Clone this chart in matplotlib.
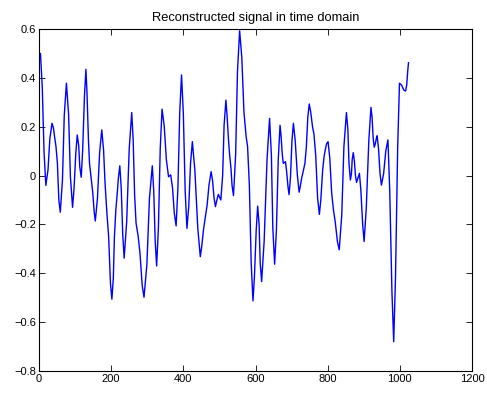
import matplotlib
matplotlib.use("Agg")
import matplotlib.pyplot as plt

# Sample index / value pairs
t = [1, 4, 9, 14, 19, 25, 30, 36, 40, 44, 47, 51, 55, 59, 65, 70, 76, 82, 87, 93,
     97, 102, 106, 110, 113, 117, 121, 126, 130, 133, 137, 140, 146, 149, 153, 156,
     162, 168, 174, 179, 183, 188, 193, 198, 202, 206, 209, 213, 217, 220, 224, 228,
     232, 236, 243, 250, 257, 261, 265, 269, 275, 280, 286, 291, 299, 306, 314, 318,
     322, 326, 331, 336, 341, 347, 353, 359, 365, 370, 375, 380, 385, 390, 395, 400,
     405, 410, 415, 420, 425, 432, 440, 447, 451, 456, 460, 466, 471, 477, 481, 485,
     489, 493, 497, 504, 509, 513, 518, 521, 525, 528, 532, 535, 539, 545, 550, 556,
     562, 568, 574, 578, 583, 588, 593, 597, 602, 606, 610, 613, 617, 624, 632, 639,
     644, 648, 653, 658, 663, 668, 671, 674, 677, 683, 686, 690, 693, 697, 701, 705,
     710, 716, 721, 724, 728, 731, 737, 741, 745, 749, 753, 758, 762, 767, 772, 777,
     781, 786, 790, 794, 797, 801, 806, 811, 816, 821, 827, 832, 839, 845, 852, 856,
     859, 863, 866, 868, 871, 874, 877, 880, 888, 892, 897, 901, 907, 914, 920, 923,
     926, 929, 932, 935, 937, 941, 945, 949, 955, 961, 967, 972, 978, 983, 988, 994,
     999, 1005, 1011, 1016, 1019, 1022, 1024]
signal = [0.49, 0.50, 0.365, 0.095, -0.04, 0.024, 0.15, 0.214, 0.195, 0.15, 0.12, 0.05,
          -0.10, -0.15, -0.018, 0.246, 0.378, 0.251, -0.003, -0.13, -0.056, 0.092, 0.166,
          0.123, 0.036, -0.007, 0.104, 0.325, 0.435, 0.339, 0.146, 0.05, -0.03, -0.07,
          -0.15, -0.186, -0.093, 0.094, 0.187, 0.103, -0.03, -0.15, -0.25, -0.44, -0.506,
          -0.42, -0.25, -0.14, -0.07, -0.01, 0.04, -0.055, -0.24, -0.338, -0.189, 0.109,
          0.258, 0.145, -0.08, -0.195, -0.25, -0.32, -0.45, -0.498, -0.364, -0.095, 0.04,
          -0.063, -0.268, -0.37, -0.21, 0.111, 0.272, 0.203, 0.065, -0.005, 0.003, -0.05,
          -0.154, -0.206, -0.05, 0.258, 0.412, 0.255, -0.059, -0.216, -0.127, 0.05, 0.139,
          0.021, -0.214, -0.332, -0.29, -0.22, -0.18, -0.12, -0.04, 0.016, -0.02, -0.09,
          -0.127, -0.10, -0.077, -0.10, 0.002, 0.207, 0.309, 0.25, 0.15, 0.09, 0.03, -0.04,
          -0.082, 0.087, 0.424, 0.593, 0.485, 0.26, 0.16, 0.12, -0.04, -0.355, -0.513,
          -0.416, -0.222, -0.125, -0.2, -0.357, -0.434, -0.267, 0.067, 0.234, 0.085,
          -0.214, -0.363, -0.221, 0.064, 0.206, 0.16, 0.09, 0.05, 0.057, 0.02, -0.045,
          -0.078, -0.005, 0.141, 0.214, 0.144, 0.002, -0.068, -0.045, -0.01, 0.009, 0.05,
          0.12, 0.24, 0.293, 0.26, 0.2, 0.17, 0.08, -0.09, -0.159, -0.1, 0.02, 0.077, 0.11,
          0.13, 0.139, 0.07, -0.07, -0.14, -0.19, -0.27, -0.304, -0.164, 0.118, 0.258,
          0.189, 0.051, -0.018, 0.01, 0.066, 0.094, 0.06, 0.0, -0.028, 0.009, -0.06, -0.2,
          -0.27, -0.133, 0.142, 0.279, 0.24, 0.155, 0.116, 0.13, 0.153, 0.163, 0.11, 0.01,
          -0.039, 0.007, 0.1, 0.146, -0.06, -0.47, -0.68, -0.416, 0.114, 0.378, 0.37, 0.35,
          0.346, 0.37, 0.43, 0.462]

xticks = [0, 200, 400, 600, 800, 1000, 1200]
xticklabels = ["0", "200", "400", "600", "800", "1000", "1200"]
yticks = [-0.8, -0.6, -0.4, -0.2, 0, 0.2, 0.4, 0.6]
yticklabels = ["\u22120.8", "\u22120.6", "\u22120.4", "\u22120.2", "0", "0.2", "0.4", "0.6"]
title = "Reconstructed signal in time domain"

plt.rcParams['font.family'] = ['Liberation Sans', 'DejaVu Sans']

fig = plt.figure(figsize=(4.87, 3.95), dpi=100)
ax = fig.add_axes([39 / 487, 24 / 395, 433 / 487, 342 / 395])
ax.plot(t, signal, color=(0, 0, 1), linewidth=1.0)
ax.set_xlim(0, 1200)
ax.set_ylim(-0.8, 0.6)
ax.set_xticks(xticks)
ax.set_xticklabels(xticklabels)
ax.set_yticks(yticks)
ax.set_yticklabels(yticklabels)
ax.tick_params(direction='in', top=True, right=True, length=4, width=0.6,
               labelsize=8, pad=2)
for s in ax.spines.values():
    s.set_linewidth(0.8)
ax.set_title(title, fontsize=9.3, pad=6)
fig.savefig("out.png", dpi=100)
